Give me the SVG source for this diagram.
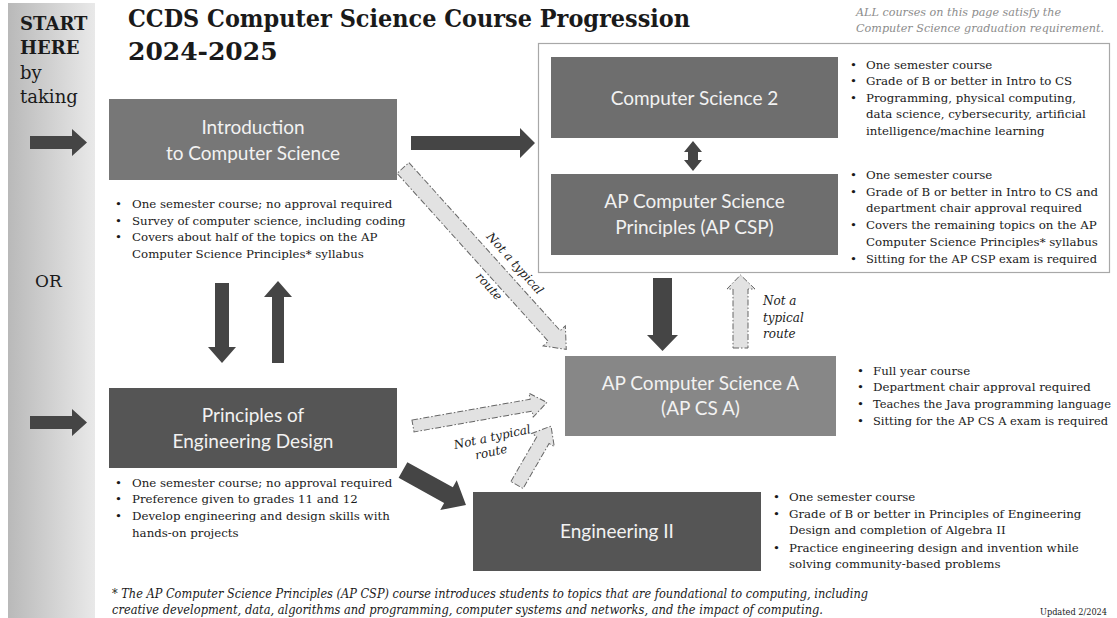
<svg xmlns="http://www.w3.org/2000/svg" width="1117" height="618" viewBox="0 0 1117 618">
<defs>
<linearGradient id="side" x1="0" y1="0" x2="1" y2="0">
<stop offset="0" stop-color="#b9b9b9"/>
<stop offset="1" stop-color="#e9e9e9"/>
</linearGradient>
<style>
.ser{font-family:"DejaVu Serif","Liberation Serif",serif;fill:#1a1a1a}
.body{font-size:11.8px}
.box{font-family:Lato,"Liberation Sans",sans-serif;font-size:19px;fill:#f2f2f2;text-anchor:middle}
.solid{fill:#454545}
.dash{fill:#e2e2e2;stroke:#666;stroke-width:1;stroke-dasharray:6 2 1.5 2}
.lbl{font-family:"DejaVu Serif","Liberation Serif",serif;font-style:italic;font-size:12px;fill:#222}
.note{font-family:"DejaVu Serif","Liberation Serif",serif;font-style:italic;font-size:11px;fill:#8c8c8c}
</style>
</defs>
<rect width="1117" height="618" fill="#ffffff"/>
<g id="sidebar">
<rect x="8" y="3" width="87" height="615" fill="url(#side)"/>
<text class="ser" x="20" y="30" font-size="18" font-weight="bold">START</text>
<text class="ser" x="20" y="54" font-size="18" font-weight="bold">HERE</text>
<text class="ser" x="20" y="79" font-size="18">by</text>
<text class="ser" x="20" y="103" font-size="18">taking</text>
<text class="ser" x="35" y="287" font-size="17">OR</text>
</g>
<g id="title">
<text class="ser" x="128" y="27" font-size="25" font-weight="bold" textLength="562" lengthAdjust="spacingAndGlyphs">CCDS Computer Science Course Progression</text>
<text class="ser" x="128" y="60" font-size="25" font-weight="bold">2024-2025</text>
</g>
<g id="note">
<text class="note" x="856" y="16" textLength="205" lengthAdjust="spacingAndGlyphs">ALL courses on this page satisfy the</text>
<text class="note" x="856" y="32" textLength="248" lengthAdjust="spacingAndGlyphs">Computer Science graduation requirement.</text>
</g>
<g id="group-frame">
<rect x="538.5" y="43.5" width="571" height="229" fill="none" stroke="#a8a8a8" stroke-width="1.2"/>
</g>
<g id="connectors">
<polygon class="solid" points="30,136 72,136 72,129 87,142.5 72,156 72,149 30,149"/>
<polygon class="solid" points="30,416 72,416 72,409 87,422.5 72,436 72,429 30,429"/>
<polygon class="solid" points="411,136 520,136 520,128 535,143 520,158 520,150 411,150"/>
<polygon class="solid" points="688,152 684,152 693,141 702,152 698,152 698,160 702,160 693,171 684,160 688,160"/>
<polygon class="solid" points="215,283 229,283 229,347 236,347 222,363 208,347 215,347"/>
<polygon class="solid" points="272,363 284,363 284,297 292,297 278,281 264,297 272,297"/>
<polygon class="solid" points="653,278 672,278 672,335 678,335 662.5,351 647,335 653,335"/>
<polygon class="solid" transform="translate(403,470) rotate(29)" points="0,-9 52,-9 52,-17 72,0 52,17 52,9 0,9"/>
<polygon class="dash" transform="translate(403,168) rotate(48)" points="0,-8 226,-8 226,-15 244,0 226,15 226,8 0,8"/>
<polygon class="dash" transform="translate(413,426) rotate(-10)" points="0,-6 120,-6 120,-12 136,0 120,12 120,6 0,6"/>
<polygon class="dash" transform="translate(517,485) rotate(-60)" points="0,-7 52,-7 52,-13 68,0 52,13 52,7 0,7"/>
<polygon class="dash" points="733,348 748,348 748,289 755,289 740.5,275 727,289 733,289"/>
<text class="lbl" transform="translate(512,266) rotate(48)" text-anchor="middle">Not a typical</text>
<text class="lbl" transform="translate(486,289) rotate(48)" text-anchor="middle">route</text>
<text class="lbl" transform="translate(493,441) rotate(-12)" text-anchor="middle">Not a typical</text>
<text class="lbl" transform="translate(492,456) rotate(-12)" text-anchor="middle">route</text>
<text class="lbl" x="763" y="305">Not a</text>
<text class="lbl" x="763" y="322">typical</text>
<text class="lbl" x="763" y="338">route</text>
</g>
<g id="intro">
<rect x="109" y="99" width="288" height="81" fill="#777777"/>
<text class="box" x="253" y="134">Introduction</text>
<text class="box" x="253" y="160">to Computer Science</text>
<g class="ser body">
<text x="115" y="208">•</text><text x="132" y="208">One semester course; no approval required</text>
<text x="115" y="225">•</text><text x="132" y="225">Survey of computer science, including coding</text>
<text x="115" y="241">•</text><text x="132" y="241">Covers about half of the topics on the AP</text>
<text x="132" y="258">Computer Science Principles* syllabus</text>
</g>
</g>
<g id="cs2">
<rect x="551" y="57" width="287" height="81" fill="#6e6e6e"/>
<text class="box" x="694.5" y="105">Computer Science 2</text>
<g class="ser body">
<text x="850" y="69">•</text><text x="866" y="69">One semester course</text>
<text x="850" y="85">•</text><text x="866" y="85">Grade of B or better in Intro to CS</text>
<text x="850" y="102">•</text><text x="866" y="102">Programming, physical computing,</text>
<text x="866" y="118">data science, cybersecurity, artificial</text>
<text x="866" y="135">intelligence/machine learning</text>
</g>
</g>
<g id="apcsp">
<rect x="551" y="174" width="287" height="81" fill="#6e6e6e"/>
<text class="box" x="694.5" y="208">AP Computer Science</text>
<text class="box" x="694.5" y="234">Principles (AP CSP)</text>
<g class="ser body">
<text x="850" y="179">•</text><text x="866" y="179">One semester course</text>
<text x="850" y="196">•</text><text x="866" y="196">Grade of B or better in Intro to CS and</text>
<text x="866" y="212">department chair approval required</text>
<text x="850" y="229">•</text><text x="866" y="229">Covers the remaining topics on the AP</text>
<text x="866" y="246">Computer Science Principles* syllabus</text>
<text x="850" y="263" >•</text><text x="866" y="263" textLength="231" lengthAdjust="spacingAndGlyphs">Sitting for the AP CSP exam is required</text>
</g>
</g>
<g id="apcsa">
<rect x="565" y="356" width="271" height="80" fill="#878787"/>
<text class="box" x="700.5" y="390">AP Computer Science A</text>
<text class="box" x="700.5" y="415">(AP CS A)</text>
<g class="ser body">
<text x="857" y="375">•</text><text x="873" y="375">Full year course</text>
<text x="857" y="391">•</text><text x="873" y="391">Department chair approval required</text>
<text x="857" y="408">•</text><text x="873" y="408" textLength="238" lengthAdjust="spacingAndGlyphs">Teaches the Java programming language</text>
<text x="857" y="425">•</text><text x="873" y="425" textLength="235" lengthAdjust="spacingAndGlyphs">Sitting for the AP CS A exam is required</text>
</g>
</g>
<g id="poed">
<rect x="109" y="388" width="288" height="80" fill="#555555"/>
<text class="box" x="253" y="422">Principles of</text>
<text class="box" x="253" y="448">Engineering Design</text>
<g class="ser body">
<text x="115" y="487">•</text><text x="132" y="487">One semester course; no approval required</text>
<text x="115" y="503">•</text><text x="132" y="503">Preference given to grades 11 and 12</text>
<text x="115" y="520">•</text><text x="132" y="520">Develop engineering and design skills with</text>
<text x="132" y="537">hands-on projects</text>
</g>
</g>
<g id="eng2">
<rect x="473" y="492" width="288" height="79" fill="#555555"/>
<text class="box" x="617" y="538">Engineering II</text>
<g class="ser body">
<text x="773" y="501">•</text><text x="789" y="501">One semester course</text>
<text x="773" y="518">•</text><text x="789" y="518">Grade of B or better in Principles of Engineering</text>
<text x="789" y="534">Design and completion of Algebra II</text>
<text x="773" y="552">•</text><text x="789" y="552">Practice engineering design and invention while</text>
<text x="789" y="568">solving community-based problems</text>
</g>
</g>
<g id="footnote">
<text class="ser" x="112" y="598" font-size="12.5" font-style="italic" textLength="756" lengthAdjust="spacingAndGlyphs">* The AP Computer Science Principles (AP CSP) course introduces students to topics that are foundational to computing, including</text>
<text class="ser" x="112" y="614" font-size="12.5" font-style="italic" textLength="711" lengthAdjust="spacingAndGlyphs">creative development, data, algorithms and programming, computer systems and networks, and the impact of computing.</text>
<text class="ser" x="1040" y="615" font-size="8.5" textLength="67" lengthAdjust="spacingAndGlyphs">Updated 2/2024</text>
</g>
</svg>
